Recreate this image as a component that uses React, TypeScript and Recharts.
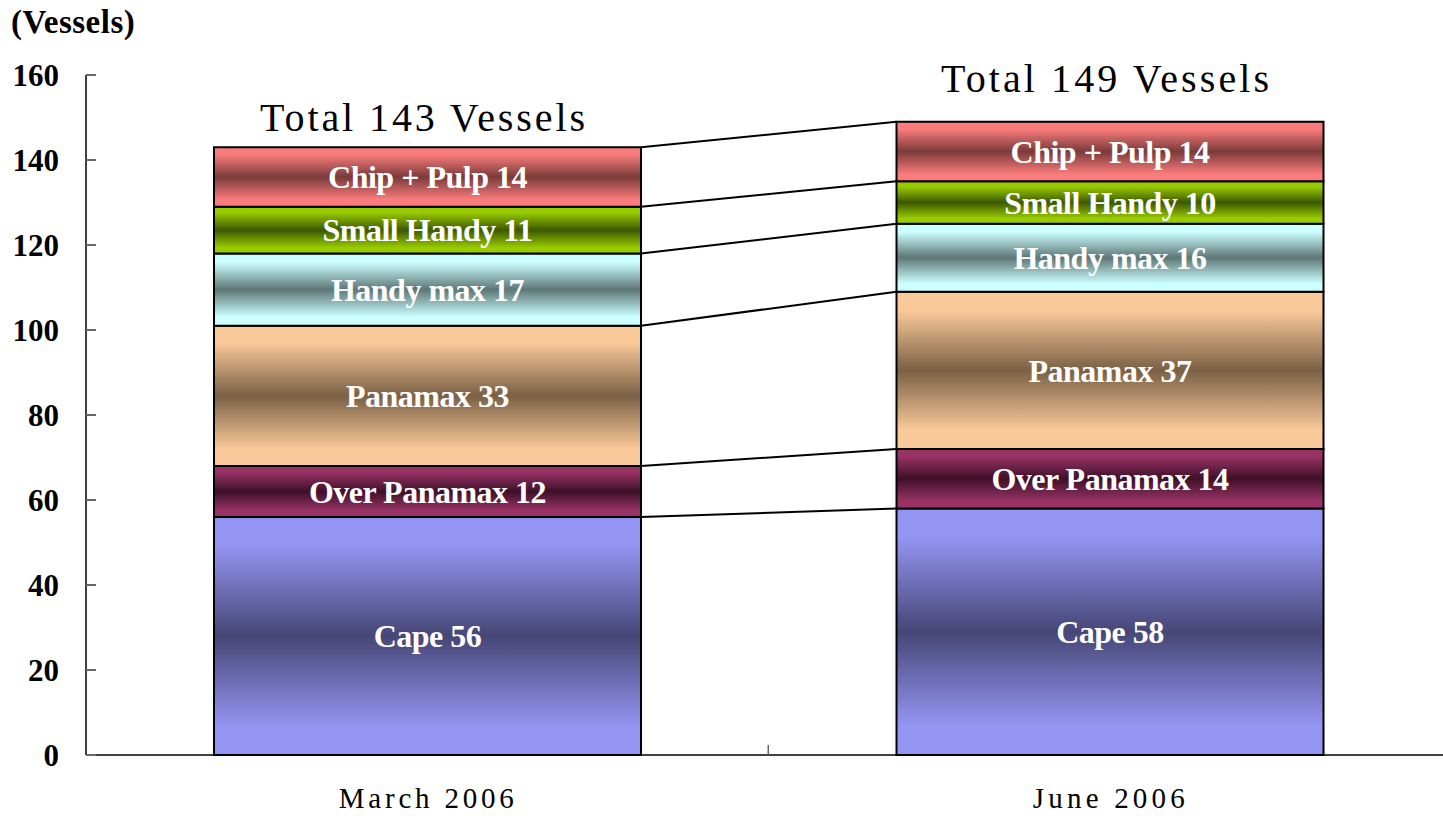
import React from 'react';
import { BarChart, Bar, XAxis, YAxis, LabelList } from 'recharts';

const categories = ['March 2006', 'June 2006'];
const cape = [56, 58];
const overPanamax = [12, 14];
const panamax = [33, 37];
const handyMax = [17, 16];
const smallHandy = [11, 10];
const chipPulp = [14, 14];
const totals = [143, 149];
const yTicks = [0, 20, 40, 60, 80, 100, 120, 140, 160];

const series = [
    { key: 'cape', name: 'Cape', values: cape, edge: '#9494f2', mid: '#464676' },
    { key: 'over', name: 'Over Panamax', values: overPanamax, edge: '#993366', mid: '#3e1028' },
    { key: 'panamax', name: 'Panamax', values: panamax, edge: '#fac99a', mid: '#7a6044' },
    { key: 'handy', name: 'Handy max', values: handyMax, edge: '#ccffff', mid: '#5e7676' },
    { key: 'small', name: 'Small Handy', values: smallHandy, edge: '#99cc00', mid: '#3d5800' },
    { key: 'chip', name: 'Chip + Pulp', values: chipPulp, edge: '#fa7c7c', mid: '#7a3a3a' },
];

const data = categories.map((name, i) => {
    const row: any = { name, total: `Total ${totals[i]} Vessels` };
    series.forEach(s => {
        row[s.key] = s.values[i];
        row[s.key + 'Label'] = `${s.name} ${s.values[i]}`;
    });
    return row;
});

// remembers the right/top corner of each March segment so the June segment can join to it
const joins: Record<string, { x: number; y: number }> = {};

const makeShape = (key: string, isTop: boolean) => (props: any) => {
    const { x, y, width, height, payload } = props;
    const idx = categories.indexOf(payload.name);
    if (idx === 0) joins[key] = { x: x + width, y };
    const j = joins[key];
    const totalGap = idx === 0 ? 16 : 30;
    const totalLen = idx === 0 ? 325 : 328;
    return (
        <g>
            <rect x={x} y={y} width={width} height={height} fill={`url(#grad-${key})`} stroke="#000" strokeWidth={2} />
            {idx === 1 && j ? <line x1={j.x} y1={j.y} x2={x} y2={y} stroke="#000" strokeWidth={2} /> : null}
            {isTop ? (
                <text
                    x={x + width / 2 - 5}
                    y={y - totalGap}
                    textAnchor="middle"
                    fontFamily="'Liberation Serif', serif"
                    fontSize={40}
                    fill="#000"
                    textLength={totalLen}
                    lengthAdjust="spacing"
                >
                    {payload.total}
                </text>
            ) : null}
        </g>
    );
};

const YTick = (props: any) => {
    const { x, y, payload } = props;
    return (
        <g>
            <line x1={x} x2={x + 10} y1={y} y2={y} stroke="#666" strokeWidth={2} />
            <text x={x - 27} y={y} dy={11} textAnchor="end" fontFamily="'Liberation Serif', serif" fontWeight="bold" fontSize={31} fill="#000">
                {payload.value}
            </text>
        </g>
    );
};

const XTick = (props: any) => {
    const { x, y, payload, index } = props;
    const len = payload.value === categories[0] ? 175 : 152;
    return (
        <g>
            {index === 0 ? <line x1={x + 341} x2={x + 341} y1={y} y2={y - 10} stroke="#666" strokeWidth={1.5} /> : null}
            <text
                x={x - 1}
                y={y + 53}
                textAnchor="middle"
                fontFamily="'Liberation Serif', serif"
                fontSize={29}
                fill="#000"
                textLength={len}
                lengthAdjust="spacing"
            >
                {payload.value}
            </text>
        </g>
    );
};

const App: React.FC = () => {
    return (
        <div style={{ position: 'absolute', left: 0, top: 0, width: 1443, height: 816, overflow: 'hidden', background: '#fff' }}>
            <div
                style={{
                    position: 'absolute',
                    left: 11,
                    top: 3,
                    fontFamily: "'Liberation Serif', serif",
                    fontWeight: 'bold',
                    fontSize: 33,
                    lineHeight: '38px',
                    letterSpacing: '0.5px',
                }}
            >
                (Vessels)
            </div>
            <BarChart width={1451} height={816} data={data} margin={{ top: 75, right: 0, left: 0, bottom: 0 }}>
                <defs>
                    {series.map(s => (
                        <linearGradient key={s.key} id={`grad-${s.key}`} x1="0" y1="0" x2="0" y2="1">
                            <stop offset="0%" stopColor={s.edge} />
                            <stop offset="12%" stopColor={s.edge} />
                            <stop offset="50%" stopColor={s.mid} />
                            <stop offset="88%" stopColor={s.edge} />
                            <stop offset="100%" stopColor={s.edge} />
                        </linearGradient>
                    ))}
                </defs>
                <XAxis
                    dataKey="name"
                    height={61}
                    axisLine={{ stroke: '#000', strokeWidth: 1.5 }}
                    tickLine={false}
                    tickSize={0}
                    tickMargin={0}
                    tick={<XTick />}
                    interval={0}
                />
                <YAxis
                    width={86}
                    domain={[0, 160]}
                    ticks={yTicks}
                    interval={0}
                    axisLine={{ stroke: '#000', strokeWidth: 1.5 }}
                    tickLine={false}
                    tickSize={0}
                    tickMargin={0}
                    tick={<YTick />}
                />
                {series.map((s, i) => (
                    <Bar
                        key={s.key}
                        dataKey={s.key}
                        stackId="a"
                        barSize={427}
                        isAnimationActive={false}
                        shape={makeShape(s.key, i === series.length - 1)}
                    >
                        <LabelList
                            dataKey={s.key + 'Label'}
                            position="center"
                            fill="#fff"
                            fontSize={32}
                            fontWeight="bold"
                            fontFamily="'Liberation Serif', serif"
                            style={{ letterSpacing: '-0.5px' }}
                        />
                    </Bar>
                ))}
            </BarChart>
        </div>
    );
};

export default App;
